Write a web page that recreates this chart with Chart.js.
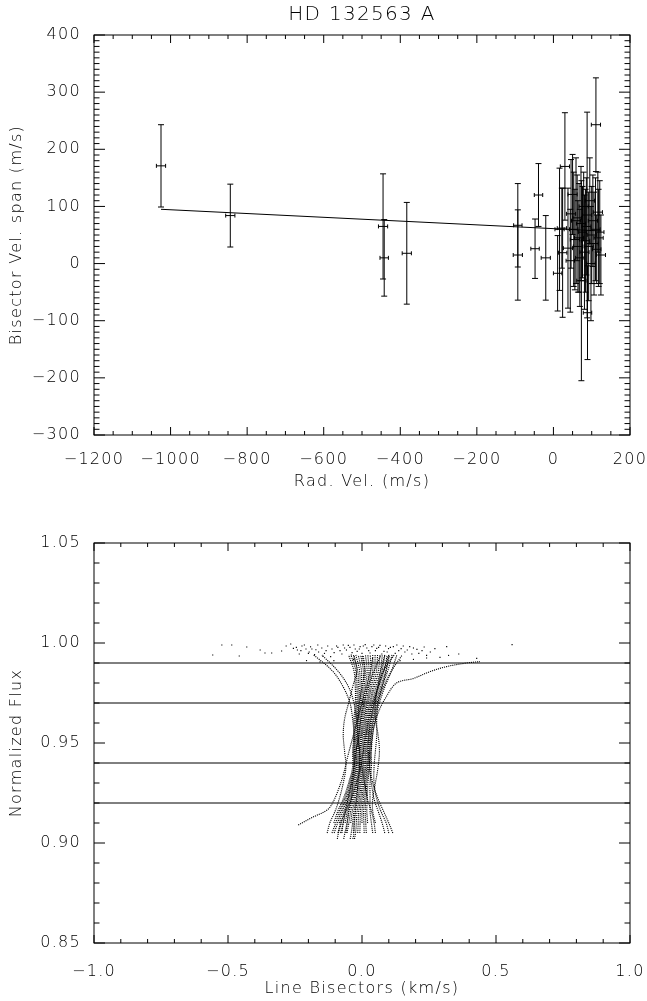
<!DOCTYPE html>
<html>
<head>
<meta charset="utf-8">
<script src="https://cdn.jsdelivr.net/npm/chart.js@4.4.0/dist/chart.umd.min.js"></script>
<style>
  body { margin: 0; background: #fff; }
  .lienzo { position: absolute; left: 0; }
</style>
</head>
<body>
<canvas id="grafSpan" class="lienzo" style="top:0" width="647" height="500"></canvas>
<canvas id="grafBisectores" class="lienzo" style="top:500px" width="647" height="501"></canvas>
<script>
// panel superior: span del bisector frente a velocidad radial (m/s)
let velRadial   = [-1025, -844, -445, -442, -383, -93, -93, -48, -39, -20,
                   11, 16, 22, 24, 30, 38, 44, 46, 50, 53, 56, 59, 62, 64, 67, 69, 72, 73, 76, 79,
                   81, 84, 86, 88, 89, 92, 95, 98, 100, 103, 106, 110, 111, 113, 116, 118, 121, 124];
let spanBisector = [171, 84, 65, 10, 18, 67, 15, 26, 120, 10,
                   -17, 60, 62, 19, 170, 27, 5, 87, 121, 60, 42, 75, 80, 30, 45, 10, 70, -30, 55, 100,
                   20, 40, 65, 85, -86, 30, 110, 0, 50, 75, 35, 60, 243, 25, 90, 45, 55, 15];
let errorSpan   = [72, 55, 92, 67, 89, 73, 79, 52, 55, 74,
                   66, 107, 70, 113, 94, 105, 90, 95, 70, 100, 88, 110, 75, 80, 95, 85, 100, 175, 80, 60,
                   100, 90, 85, 180, 82, 95, 75, 100, 85, 80, 90, 90, 82, 60, 70, 85, 90, 70];
let errorVel    = [12, 12, 12, 11, 12, 11, 12, 11, 11, 12,
                   11, 12, 12, 11, 12, 12, 11, 12, 12, 11, 12, 12, 11, 12, 12, 11, 12, 12, 11, 12,
                   12, 11, 12, 12, 11, 12, 12, 11, 12, 12, 11, 12, 12, 11, 12, 12, 11, 12];
// recta ajustada (extremos)
let ajusteX = [-1025, 125];
let ajusteY = [95, 57];

let ticksVel  = [-1200, -1000, -800, -600, -400, -200, 0, 200];
let ticksSpan = [-300, -200, -100, 0, 100, 200, 300, 400];

// panel inferior: bisectores de linea (km/s) por nivel de flujo
let nivelesFlujo = [0.902, 0.905, 0.910, 0.916, 0.922, 0.930, 0.938, 0.946, 0.954, 0.962, 0.970, 0.978, 0.986, 0.994];
let bisectores = [
  [null, null, -0.105, -0.090, -0.070, -0.050, -0.035, -0.035, -0.030, -0.030, -0.025, -0.025, -0.030, -0.050],
  [null, -0.112, -0.098, -0.084, -0.065, -0.046, -0.031, -0.031, -0.027, -0.026, -0.020, -0.019, -0.023, -0.041],
  [null, -0.104, -0.091, -0.078, -0.060, -0.042, -0.028, -0.028, -0.023, -0.022, -0.016, -0.014, -0.016, -0.032],
  [null, null, -0.084, -0.072, -0.055, -0.038, -0.024, -0.024, -0.020, -0.018, -0.012, -0.008, -0.009, -0.023],
  [-0.092, -0.088, -0.077, -0.066, -0.050, -0.034, -0.021, -0.021, -0.016, -0.014, -0.007, -0.003, -0.002, -0.014],
  [null, -0.080, -0.070, -0.060, -0.045, -0.030, -0.018, -0.018, -0.012, -0.010, -0.003, 0.003, 0.005, -0.005],
  [null, null, -0.063, -0.054, -0.040, -0.026, -0.014, -0.014, -0.009, -0.006, 0.002, 0.008, 0.012, 0.004],
  [-0.068, -0.064, -0.056, -0.048, -0.035, -0.022, -0.010, -0.010, -0.005, -0.002, 0.006, 0.013, 0.019, 0.013],
  [null, -0.056, -0.049, -0.042, -0.030, -0.018, -0.007, -0.007, -0.002, 0.002, 0.011, 0.019, 0.026, 0.022],
  [null, null, -0.042, -0.036, -0.025, -0.014, -0.004, -0.004, 0.001, 0.006, 0.016, 0.025, 0.033, 0.031],
  [-0.044, -0.040, -0.035, -0.030, -0.020, -0.010, 0.000, 0.000, 0.005, 0.010, 0.020, 0.030, 0.040, 0.040],
  [null, -0.032, -0.028, -0.024, -0.015, -0.006, 0.004, 0.004, 0.009, 0.014, 0.024, 0.035, 0.047, 0.049],
  [-0.028, -0.024, -0.021, -0.018, -0.010, -0.002, 0.007, 0.007, 0.012, 0.018, 0.029, 0.041, 0.054, 0.058],
  [null, -0.016, -0.014, -0.012, -0.005, 0.002, 0.011, 0.011, 0.016, 0.022, 0.033, 0.046, 0.061, 0.067],
  [null, -0.008, -0.007, -0.006, 0.000, 0.006, 0.014, 0.014, 0.019, 0.026, 0.038, 0.052, 0.068, 0.076],
  [null, null, 0.000, 0.000, 0.005, 0.010, 0.018, 0.018, 0.023, 0.030, 0.043, 0.058, 0.075, 0.085],
  [null, 0.008, 0.007, 0.006, 0.010, 0.014, 0.021, 0.021, 0.026, 0.034, 0.047, 0.063, 0.082, 0.094],
  [null, 0.016, 0.014, 0.012, 0.015, 0.018, 0.025, 0.025, 0.030, 0.038, 0.052, 0.069, 0.089, 0.103],
  [null, null, 0.021, 0.018, 0.020, 0.022, 0.028, 0.028, 0.033, 0.042, 0.056, 0.074, 0.096, 0.112],
  [null, 0.040, 0.035, 0.030, 0.030, 0.030, 0.035, 0.035, 0.040, 0.050, 0.065, 0.085, 0.110, 0.130],
  [null, -0.090, -0.080, -0.060, -0.040, -0.020, -0.005, 0.005, 0.015, 0.025, 0.040, 0.060, 0.080, 0.100],
  [null, 0.050, 0.045, 0.035, 0.020, 0.010, 0.000, -0.010, -0.015, -0.015, -0.010, 0.000, 0.010, 0.000],
  [null, -0.130, -0.120, -0.100, -0.085, -0.070, -0.060, -0.065, -0.070, -0.065, -0.050, -0.035, -0.020, -0.030],
  [null, 0.100, 0.090, 0.070, 0.055, 0.045, 0.045, 0.050, 0.055, 0.055, 0.060, 0.080, 0.110, 0.150],
  [null, 0.115, 0.100, 0.080, 0.060, 0.040, 0.030, 0.030, 0.035, 0.045, 0.060, 0.075, 0.090, 0.100],
  [null, null, 0.050, 0.040, 0.040, 0.050, 0.060, 0.065, 0.060, 0.050, 0.050, 0.060, 0.080, 0.120],
  [-0.034, -0.030, -0.030, -0.025, -0.020, -0.015, -0.010, -0.010, -0.015, -0.020, -0.030, -0.050, -0.090, -0.150],
  [null, -0.060, -0.055, -0.050, -0.040, -0.035, -0.030, -0.030, -0.030, -0.035, -0.045, -0.070, -0.110, -0.180],
  [null, -0.075, -0.070, -0.062, -0.052, -0.040, -0.030, -0.022, -0.012, -0.004, 0.008, 0.022, 0.045, 0.070],
  [null, 0.085, 0.075, 0.060, 0.045, 0.035, 0.028, 0.024, 0.026, 0.034, 0.046, 0.058, 0.070, 0.085]
];
// bisectores que se separan del haz
let ramaDerV = [0.030, 0.040, 0.060, 0.090, 0.129, 0.192, 0.254, 0.316, 0.390, 0.440];
let ramaDerF = [0.940, 0.955, 0.965, 0.973, 0.980, 0.9823, 0.9857, 0.9882, 0.9900, 0.9907];
let ramaIzqV = [-0.238, -0.190, -0.130, -0.110, -0.090, -0.070, -0.050, -0.030, -0.010, 0.010, 0.030, 0.040];
let ramaIzqF = [0.909, 0.9125, 0.9165, 0.920, 0.926, 0.934, 0.945, 0.955, 0.965, 0.975, 0.985, 0.993];
// puntos sueltos cerca del continuo
let puntosV = [-0.557, -0.523, -0.486, -0.458, -0.430, -0.380, -0.362, -0.337, -0.300, -0.283,
               -0.266, -0.256, -0.241, -0.234, -0.224, -0.209, -0.197, -0.187, -0.177, -0.162,
               -0.147, -0.134, -0.117, -0.095, -0.082, -0.065, -0.051, -0.037, -0.025, -0.007,
               0.012, 0.025, 0.037, 0.055, 0.067, 0.082, 0.099, 0.117, 0.137, 0.154,
               0.169, 0.192, 0.212, 0.224, 0.241, 0.316, 0.323, 0.361, 0.428, 0.560,
               -0.207, -0.157, -0.105, -0.032, 0.142, 0.192, 0.241, 0.291,
               -0.245, -0.228, -0.215, -0.200, -0.192, -0.172, -0.165, -0.150, -0.140, -0.128,
               -0.112, -0.104, -0.090, -0.075, -0.070, -0.058, -0.045, -0.040, -0.030, -0.018,
               -0.010, 0.000, 0.005, 0.018, 0.030, 0.044, 0.050, 0.062, 0.074, 0.088,
               0.094, 0.106, 0.124, 0.130, 0.146, 0.160, 0.178, 0.186, 0.205, 0.232, 0.255, 0.272];
let puntosF = [0.9940, 0.9990, 0.9990, 0.9935, 0.9980, 0.9965, 0.9950, 0.9950, 0.9960, 0.9985,
               0.9995, 0.9973, 0.9965, 0.9945, 0.9985, 0.9970, 0.9955, 0.9970, 0.9942, 0.9955,
               0.9935, 0.9962, 0.9932, 0.9985, 0.9962, 0.9975, 0.9988, 0.9952, 0.9970, 0.9982,
               0.9992, 0.9962, 0.9982, 0.9973, 0.9988, 0.9958, 0.9972, 0.9982, 0.9962, 0.9985,
               0.9965, 0.9975, 0.9948, 0.9962, 0.9938, 0.9982, 0.9938, 0.9945, 0.9923, 0.9992,
               0.9912, 0.9905, 0.9912, 0.9918, 0.9912, 0.9918, 0.9925, 0.9928,
               0.9978, 0.9962, 0.9990, 0.9948, 0.9981, 0.9966, 0.9990, 0.9975, 0.9948, 0.9985,
               0.9970, 0.9952, 0.9978, 0.9945, 0.9990, 0.9965, 0.9978, 0.9940, 0.9990, 0.9958,
               0.9970, 0.9948, 0.9985, 0.9975, 0.9950, 0.9990, 0.9962, 0.9978, 0.9945, 0.9985,
               0.9955, 0.9978, 0.9948, 0.9990, 0.9972, 0.9955, 0.9982, 0.9945, 0.9968, 0.9980, 0.9955, 0.9972];
let lineasFlujo = [0.99, 0.97, 0.94, 0.92];

let ticksBisector = [-1.0, -0.5, 0.0, 0.5, 1.0];
let ticksFlujo = [0.85, 0.90, 0.95, 1.00, 1.05];

Chart.defaults.font.family = "'DejaVu Sans', sans-serif";
Chart.defaults.font.size = 16;
Chart.defaults.font.weight = '200';
Chart.defaults.color = '#000';

function conMenos(txt) {
  return txt.replace('-', '\u2212');
}

// marco y marcas hacia dentro en los cuatro lados
const marcasInternas = {
  id: 'marcasInternas',
  beforeDraw(chart) {
    chart.ctx.letterSpacing = '1.3px';
  },
  afterDraw(chart, args, opts) {
    let {ctx, chartArea: a, scales: {x, y}} = chart;
    ctx.save();
    ctx.strokeStyle = '#000';
    ctx.lineWidth = 1;
    ctx.strokeRect(a.left, a.top, a.right - a.left, a.bottom - a.top);
    ctx.beginPath();
    let nx = Math.round((x.max - x.min) / opts.xMenor);
    for (let k = 0; k <= nx; k++) {
      let v = x.min + k * opts.xMenor;
      let q = v / opts.xMayor;
      let largo = Math.abs(q - Math.round(q)) < 1e-6 ? opts.largoX : opts.largoX / 2;
      let px = x.getPixelForValue(v);
      ctx.moveTo(px, a.bottom); ctx.lineTo(px, a.bottom - largo);
      ctx.moveTo(px, a.top); ctx.lineTo(px, a.top + largo);
    }
    let ny = Math.round((y.max - y.min) / opts.yMenor);
    for (let k = 0; k <= ny; k++) {
      let v = y.min + k * opts.yMenor;
      let q = v / opts.yMayor;
      let largo = Math.abs(q - Math.round(q)) < 1e-6 ? opts.largoY : opts.largoY / 2;
      let py = y.getPixelForValue(v);
      ctx.moveTo(a.left, py); ctx.lineTo(a.left + largo, py);
      ctx.moveTo(a.right, py); ctx.lineTo(a.right - largo, py);
    }
    ctx.stroke();
    ctx.restore();
  }
};

// barras de error en x e y con sus topes
const barrasError = {
  id: 'barrasError',
  afterDatasetsDraw(chart) {
    let {ctx, scales: {x, y}} = chart;
    let ds = chart.data.datasets[0];
    ctx.save();
    ctx.strokeStyle = '#000';
    ctx.lineWidth = 1;
    ctx.beginPath();
    ds.data.forEach(p => {
      let px = x.getPixelForValue(p.x);
      let py = y.getPixelForValue(p.y);
      let yArriba = y.getPixelForValue(p.y + p.ey);
      let yAbajo = y.getPixelForValue(p.y - p.ey);
      let xIzq = x.getPixelForValue(p.x - p.ex);
      let xDer = x.getPixelForValue(p.x + p.ex);
      ctx.moveTo(px, yArriba); ctx.lineTo(px, yAbajo);
      ctx.moveTo(px - 3, yArriba); ctx.lineTo(px + 3, yArriba);
      ctx.moveTo(px - 3, yAbajo); ctx.lineTo(px + 3, yAbajo);
      ctx.moveTo(xIzq, py); ctx.lineTo(xDer, py);
      ctx.moveTo(xIzq, py - 2); ctx.lineTo(xIzq, py + 2);
      ctx.moveTo(xDer, py - 2); ctx.lineTo(xDer, py + 2);
    });
    ctx.stroke();
    ctx.restore();
  }
};

function ejeX(min, max, paso, alto, padTicks, padTitulo, titulo, formato) {
  return {
    type: 'linear', min: min, max: max,
    grid: { display: false }, border: { display: false },
    ticks: { stepSize: paso, autoSkip: false, maxRotation: 0, padding: padTicks, callback: formato },
    title: { display: true, text: titulo, padding: { top: 0, bottom: padTitulo } },
    afterFit(scale) { scale.height = alto; scale.paddingLeft = 0; scale.paddingRight = 0; }
  };
}

function ejeY(min, max, paso, titulo, formato) {
  return {
    type: 'linear', min: min, max: max,
    grid: { display: false }, border: { display: false },
    ticks: { stepSize: paso, autoSkip: false, padding: 5, callback: formato },
    title: { display: true, text: titulo, padding: { top: 7, bottom: 0 } },
    afterFit(scale) { scale.width = 94; scale.paddingTop = 0; scale.paddingBottom = 0; }
  };
}

// grafica superior
let puntosSpan = velRadial.map((v, i) => ({ x: v, y: spanBisector[i], ey: errorSpan[i], ex: errorVel[i] }));

new Chart(document.getElementById('grafSpan'), {
  type: 'scatter',
  data: {
    datasets: [{
      data: puntosSpan,
      pointRadius: 0
    }, {
      data: ajusteX.map((v, i) => ({ x: v, y: ajusteY[i] })),
      showLine: true,
      borderColor: '#000',
      borderWidth: 1,
      pointRadius: 0
    }]
  },
  options: {
    responsive: false,
    animation: false,
    layout: { padding: { left: 0, right: 17, top: 0, bottom: 0 } },
    plugins: {
      legend: { display: false },
      tooltip: { enabled: false },
      title: { display: true, text: 'HD 132563 A', fullSize: false, font: { size: 20, weight: '200' }, padding: { top: 3, bottom: 8 } },
      marcasInternas: { xMenor: 50, xMayor: 200, yMenor: 10, yMayor: 100, largoX: 8, largoY: 11 }
    },
    scales: {
      x: ejeX(ticksVel[0], ticksVel[ticksVel.length - 1], 200, 65, 7, 9, 'Rad. Vel. (m/s)', v => conMenos(String(v))),
      y: ejeY(ticksSpan[0], ticksSpan[ticksSpan.length - 1], 100, 'Bisector Vel. span (m/s)', v => conMenos(String(v)))
    }
  },
  plugins: [barrasError, marcasInternas]
});

// grafica inferior
let datosBisector = [];
lineasFlujo.forEach(f => {
  datosBisector.push({
    data: [{ x: -1, y: f }, { x: 1, y: f }],
    showLine: true, borderColor: '#000', borderWidth: 1, pointRadius: 0
  });
});
let curvas = bisectores.map(curva => {
  let pts = [];
  curva.forEach((v, i) => { if (v !== null) pts.push({ x: v, y: nivelesFlujo[i] }); });
  return pts;
});
curvas.push(ramaDerV.map((v, i) => ({ x: v, y: ramaDerF[i] })));
curvas.push(ramaIzqV.map((v, i) => ({ x: v, y: ramaIzqF[i] })));
curvas.forEach(pts => {
  datosBisector.push({
    data: pts,
    showLine: true, borderColor: '#000', borderWidth: 1.1,
    borderDash: [1.1, 1], tension: 0.35, pointRadius: 0
  });
});
datosBisector.push({
  data: puntosV.map((v, i) => ({ x: v, y: puntosF[i] })),
  pointStyle: 'rect', pointRadius: 0.8, backgroundColor: '#000', borderWidth: 0
});

new Chart(document.getElementById('grafBisectores'), {
  type: 'scatter',
  data: { datasets: datosBisector },
  options: {
    responsive: false,
    animation: false,
    layout: { padding: { left: 0, right: 17, top: 43, bottom: 0 } },
    plugins: {
      legend: { display: false },
      tooltip: { enabled: false },
      marcasInternas: { xMenor: 0.1, xMayor: 0.5, yMenor: 0.01, yMayor: 0.05, largoX: 8, largoY: 11 }
    },
    scales: {
      x: ejeX(ticksBisector[0], ticksBisector[ticksBisector.length - 1], 0.5, 58, 11, 3, 'Line Bisectors (km/s)', v => conMenos(v.toFixed(1))),
      y: ejeY(ticksFlujo[0], ticksFlujo[ticksFlujo.length - 1], 0.05, 'Normalized Flux', v => v.toFixed(2))
    }
  },
  plugins: [marcasInternas]
});
</script>
</body>
</html>
